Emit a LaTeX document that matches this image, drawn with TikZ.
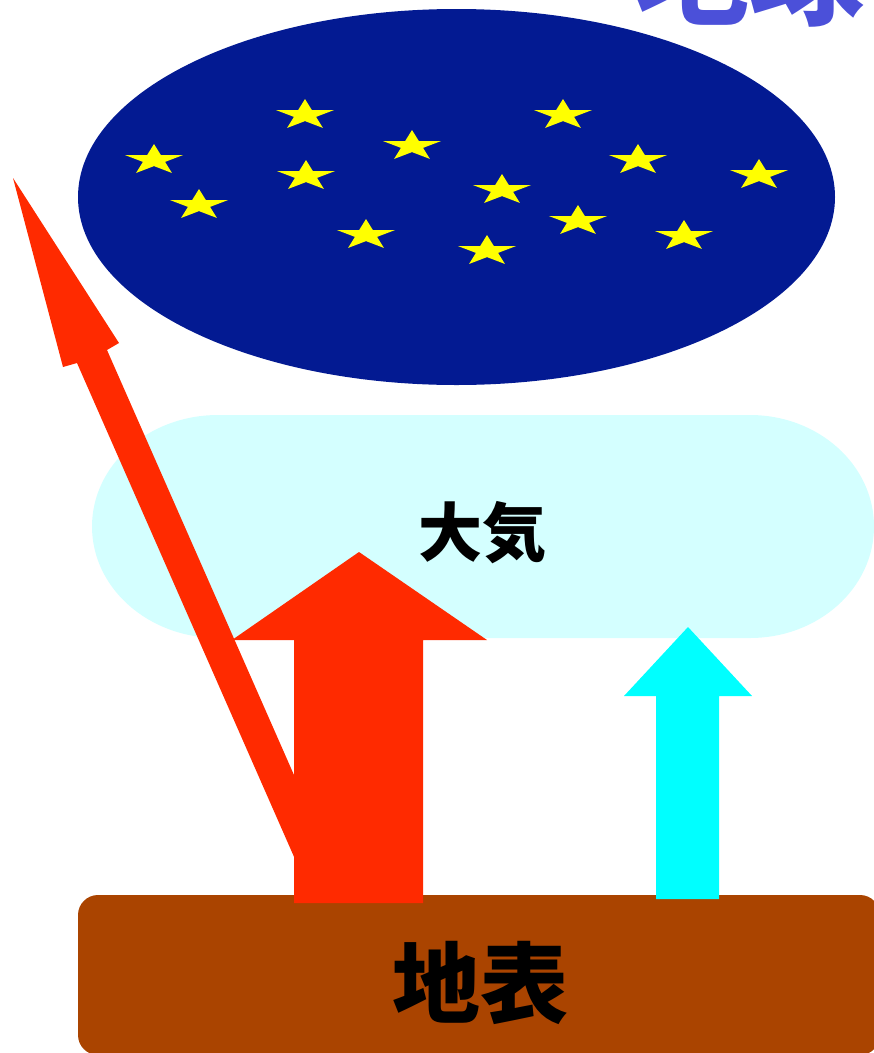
\documentclass[tikz,border=0pt]{standalone}
\usepackage{fontspec}
\newfontfamily\cjk{Noto Sans CJK JP}
\usetikzlibrary{shapes.geometric}
\definecolor{spacec}{HTML}{031A92}
\definecolor{starc}{HTML}{FFFF00}
\definecolor{atmc}{HTML}{D4FFFF}
\definecolor{redc}{HTML}{FF2A00}
\definecolor{cyanc}{HTML}{00FFFF}
\definecolor{groundc}{HTML}{AA4400}
\definecolor{titlec}{HTML}{4B50D9}
\tikzset{
  ystar/.pic={\fill[starc, xscale=30.5, yscale=16] (270:1) -- (306:0.382) -- (342:1) -- (18:0.382) -- (54:1) -- (90:0.382) -- (126:1) -- (162:0.382) -- (198:1) -- (234:0.382) -- cycle;},
  label/.style={font=\cjk\bfseries, inner sep=0pt, text=black},
}
\begin{document}
\begin{tikzpicture}[x=1pt,y=-1pt]
\useasboundingbox (0,0) rectangle (874,1053);
% sky
\node[ellipse, fill=spacec, minimum width=757pt, minimum height=376pt, inner sep=0pt] (sky) at (456.5,197) {};
\foreach \p in {(154,160),(199,205),(306,176),(412,146),(366,235),(305,115),(563,115),(638,160),(759,175),(502,190),(578,221),(684,236),(487,251)}
  \pic at \p {ystar};
% title
\node[font=\cjk\bfseries\fontsize{115}{120}\selectfont, text=titlec, inner sep=0pt] (title) at (749,-27) {地球};
% atmosphere
\path[fill=atmc] (218,415) -- (750,415) arc[start angle=-90,end angle=90,x radius=124,y radius=111.5] -- (218,638) arc[start angle=90,end angle=270,x radius=126,y radius=111.5] -- cycle;
\node[label, font=\cjk\bfseries\fontsize{64}{70}\selectfont] (atm) at (482,533) {大気};
% ground
\node[rectangle, rounded corners=20pt, fill=groundc, minimum width=802pt, minimum height=160pt, inner sep=0pt] (ground) at (479,975) {};
\node[label, font=\cjk\bfseries\fontsize{88}{92}\selectfont] (surf) at (480,983) {地表};
% thin red arrow to space
\coordinate (t0) at (13,178);
\fill[redc] (t0) -- (119,343) -- (107,350) -- (349,900) -- (313,900) -- (77,363) -- (63,367) -- cycle;
% big red arrow
\coordinate (b0) at (359,552);
\fill[redc] (b0) -- (487,640) -- (423,640) -- (423,903) -- (294,903) -- (294,640) -- (232,640) -- cycle;
% cyan arrow
\coordinate (c0) at (688,627);
\fill[cyanc] (c0) -- (752,696) -- (719,696) -- (719,899) -- (656,899) -- (656,696) -- (624,696) -- cycle;
\end{tikzpicture}
\end{document}
